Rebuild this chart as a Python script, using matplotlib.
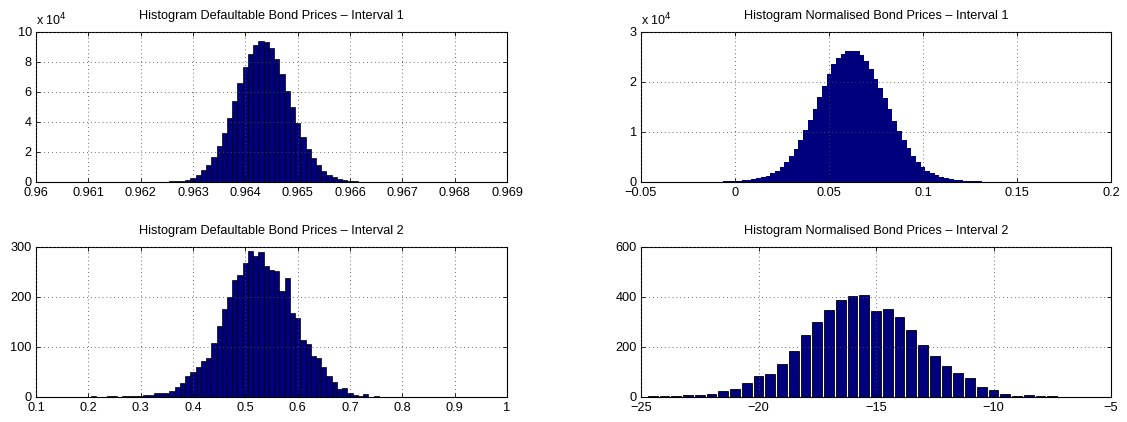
import matplotlib
matplotlib.use("Agg")
import matplotlib.pyplot as plt
import numpy as np
from matplotlib.ticker import FuncFormatter

plt.rcParams['font.family'] = ['Liberation Sans', 'DejaVu Sans']
plt.rcParams['font.size'] = 9
plt.rcParams['axes.unicode_minus'] = True

NAVY = '#00007f'

# histogram 1: defaultable bond prices, interval 1 (counts x 1e4), bin width 0.0001
price1_start = 0.9625
price1_step = 0.0001
price1_counts = [0.01, 0.02, 0.04, 0.07, 0.13, 0.24, 0.46, 0.75, 1.12, 1.67,
                 2.35, 3.23, 4.26, 5.4, 6.6, 7.65, 8.5, 9.1, 9.38, 9.3,
                 8.9, 8.18, 7.2, 6.07, 4.97, 3.91, 2.97, 2.2, 1.6, 1.12,
                 0.73, 0.46, 0.29, 0.15, 0.09, 0.04, 0.02, 0.01, 0.005]

# histogram 2: normalised bond prices, interval 1 (counts x 1e4), bin width 0.0025
norm1_start = -0.005
norm1_step = 0.0025
norm1_counts = [0.005, 0.008, 0.013, 0.02, 0.026, 0.034, 0.046, 0.066, 0.093, 0.12,
                0.165, 0.22, 0.30, 0.40, 0.51, 0.65, 0.83, 1.03, 1.24, 1.46,
                1.69, 1.92, 2.15, 2.35, 2.47, 2.55, 2.61, 2.62, 2.61, 2.53,
                2.42, 2.25, 2.06, 1.88, 1.67, 1.45, 1.22, 1.02, 0.84, 0.67,
                0.52, 0.40, 0.30, 0.22, 0.17, 0.13, 0.09, 0.07, 0.05, 0.035,
                0.025, 0.017, 0.012, 0.008, 0.005, 0.003, 0.002, 0.001]

# histogram 3: defaultable bond prices, interval 2, bin width 0.01
price2_start = 0.21
price2_step = 0.01
price2_counts = [1, 0, 0, 2, 2, 0, 1, 1, 1, 1,
                 3, 3, 8, 7, 8, 11, 20, 27, 42, 49,
                 60, 71, 78, 108, 142, 176, 199, 233, 244, 267,
                 292, 282, 289, 261, 254, 251, 211, 238, 168, 158,
                 114, 106, 82, 78, 59, 41, 29, 16, 18, 7,
                 4, 2, 6, 0, 1]

# histogram 4: normalised bond prices, interval 2, bin width 0.5
norm2_start = -24.5
norm2_step = 0.5
norm2_counts = [2, 2, 2, 6, 6, 12, 24, 32, 56, 84,
                92, 132, 184, 245, 299, 345, 387, 401, 408, 343,
                350, 317, 268, 206, 163, 123, 96, 73, 39, 26,
                10, 4, 5, 1, 1]

fig = plt.figure(figsize=(11.27, 4.22), dpi=100)
ax1 = fig.add_axes([0.0319, 0.5694, 0.418, 0.3555])
ax2 = fig.add_axes([0.5688, 0.5694, 0.417, 0.3555])
ax3 = fig.add_axes([0.0319, 0.0600, 0.418, 0.3555])
ax4 = fig.add_axes([0.5688, 0.0600, 0.417, 0.3555])


def centers(start, step, n):
    return start + step * np.arange(n)


def style(ax, title):
    ax.set_title(title, fontsize=9.2, pad=9)
    ax.grid(True, linestyle=(0, (0.8, 3.2)), color='0.3', linewidth=0.7)
    ax.set_axisbelow(False)
    ax.tick_params(direction='in', top=True, right=True, length=3,
                   width=0.6, labelsize=9.2)
    ax.tick_params(axis='x', pad=4)
    ax.tick_params(axis='y', pad=3)
    for sp in ax.spines.values():
        sp.set_linewidth(0.8)


def sci_label(ax):
    ax.yaxis.set_major_formatter(FuncFormatter(lambda v, p: f"{v / 1e4:g}"))
    ax.text(0.0, 1.025, r"x 10$^4$", transform=ax.transAxes,
            ha='left', va='bottom', fontsize=9)


# top-left
x1 = centers(price1_start, price1_step, len(price1_counts))
ax1.bar(x1, np.array(price1_counts) * 1e4, width=price1_step,
        color=NAVY, edgecolor='black', linewidth=0.5, zorder=0.5)
ax1.set_xlim(0.96, 0.969)
ax1.set_ylim(0, 1e5)
ax1.set_xticks(np.arange(0.96, 0.9691, 0.001))
ax1.xaxis.set_major_formatter(FuncFormatter(lambda v, p: f"{v:.3f}".rstrip('0')))
ax1.set_yticks(np.arange(0, 100001, 20000))
style(ax1, "Histogram Defaultable Bond Prices \u2013 Interval 1")
sci_label(ax1)

# top-right
n2 = len(norm1_counts)
edges2 = norm1_start - norm1_step / 2 + norm1_step * np.arange(n2 + 1)
ax2.stairs(np.array(norm1_counts) * 1e4, edges2, fill=True,
           color=NAVY, zorder=0.5)
ax2.set_xlim(-0.05, 0.2)
ax2.set_ylim(0, 3e4)
ax2.set_xticks([-0.05, 0, 0.05, 0.1, 0.15, 0.2])
ax2.xaxis.set_major_formatter(FuncFormatter(lambda v, p: f"{v:g}".replace('-', '\u2212')))
ax2.set_yticks([0, 1e4, 2e4, 3e4])
style(ax2, "Histogram Normalised Bond Prices \u2013 Interval 1")
sci_label(ax2)

# bottom-left
x3 = centers(price2_start, price2_step, len(price2_counts))
ax3.bar(x3, price2_counts, width=price2_step,
        color=NAVY, edgecolor='black', linewidth=0.5, zorder=0.5)
ax3.set_xlim(0.1, 1.0)
ax3.set_ylim(0, 300)
ax3.set_xticks(np.arange(0.1, 1.01, 0.1))
ax3.xaxis.set_major_formatter(FuncFormatter(lambda v, p: f"{v:.1f}".rstrip('0').rstrip('.')))
ax3.set_yticks([0, 100, 200, 300])
style(ax3, "Histogram Defaultable Bond Prices \u2013 Interval 2")

# bottom-right
x4 = centers(norm2_start, norm2_step, len(norm2_counts))
ax4.bar(x4, norm2_counts, width=norm2_step * 0.84,
        color=NAVY, edgecolor='black', linewidth=0.6, zorder=0.5)
ax4.set_xlim(-25, -5)
ax4.set_ylim(0, 600)
ax4.set_xticks([-25, -20, -15, -10, -5])
ax4.set_yticks([0, 200, 400, 600])
style(ax4, "Histogram Normalised Bond Prices \u2013 Interval 2")

fig.savefig("out.png", dpi=100)
